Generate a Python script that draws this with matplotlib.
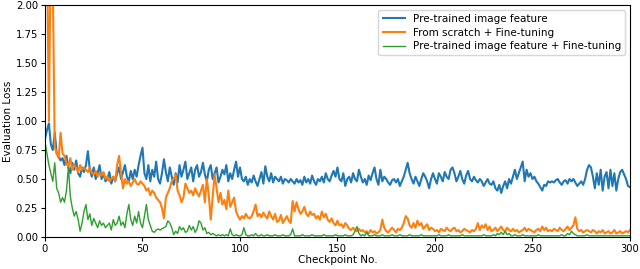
import numpy as np
import matplotlib.pyplot as plt

# values, one per checkpoint (0..300)
pretrained = [
    0.85, 0.92, 0.98, 0.80, 0.75, 0.90, 0.72, 0.70, 0.66, 0.68,
    0.62, 0.70, 0.60, 0.55, 0.64, 0.58, 0.66, 0.55, 0.52, 0.60,
    0.56, 0.62, 0.74, 0.58, 0.52, 0.60, 0.50, 0.55, 0.62, 0.50,
    0.55, 0.48, 0.50, 0.56, 0.46, 0.52, 0.48, 0.55, 0.60, 0.50,
    0.56, 0.62, 0.52, 0.48, 0.57, 0.50, 0.58, 0.52, 0.62, 0.70,
    0.77, 0.55, 0.50, 0.62, 0.48, 0.58, 0.52, 0.65, 0.50, 0.46,
    0.55, 0.67, 0.56, 0.48, 0.60, 0.52, 0.45, 0.55, 0.47, 0.62,
    0.52, 0.58, 0.65, 0.50, 0.55, 0.60, 0.48, 0.58, 0.62, 0.52,
    0.56, 0.64, 0.54, 0.48, 0.58, 0.62, 0.50, 0.55, 0.60, 0.47,
    0.52, 0.58, 0.54, 0.62, 0.48, 0.55, 0.50, 0.58, 0.65, 0.52,
    0.60, 0.50, 0.48, 0.52, 0.45, 0.50, 0.47, 0.53, 0.48, 0.44,
    0.50, 0.56, 0.46, 0.61, 0.52, 0.48, 0.55, 0.47, 0.52, 0.50,
    0.48, 0.52, 0.46, 0.50, 0.49, 0.47, 0.50, 0.48, 0.46, 0.50,
    0.47, 0.49, 0.45, 0.52, 0.47, 0.50, 0.46, 0.53, 0.48, 0.45,
    0.50, 0.48, 0.52, 0.47, 0.55, 0.50, 0.48, 0.53, 0.57, 0.52,
    0.60, 0.50, 0.48, 0.55, 0.44, 0.50, 0.52, 0.47, 0.55, 0.50,
    0.48, 0.58, 0.52, 0.47, 0.50, 0.45, 0.53, 0.49, 0.55, 0.60,
    0.50, 0.45, 0.58, 0.48, 0.52, 0.50, 0.47, 0.45, 0.49, 0.50,
    0.47, 0.50, 0.44, 0.48, 0.52, 0.58, 0.64, 0.55, 0.50, 0.46,
    0.52, 0.48, 0.44, 0.50, 0.55, 0.52, 0.48, 0.42, 0.50, 0.55,
    0.50, 0.46, 0.55, 0.52, 0.48, 0.56, 0.52, 0.50, 0.58, 0.60,
    0.55, 0.48, 0.52, 0.57, 0.50, 0.46, 0.53, 0.57, 0.50, 0.48,
    0.52, 0.49, 0.47, 0.50, 0.48, 0.44, 0.47, 0.50, 0.46, 0.45,
    0.48, 0.42, 0.40, 0.45, 0.38, 0.44, 0.48, 0.42, 0.50, 0.46,
    0.52, 0.58, 0.50, 0.55, 0.60, 0.65, 0.48, 0.58, 0.52, 0.55,
    0.50, 0.52, 0.48, 0.46, 0.43, 0.40, 0.45, 0.44, 0.48, 0.47,
    0.48, 0.47, 0.49, 0.50, 0.47, 0.45, 0.48, 0.49, 0.46, 0.50,
    0.48, 0.50, 0.47, 0.44, 0.46, 0.48, 0.45, 0.50, 0.58, 0.62,
    0.60, 0.52, 0.42, 0.55, 0.45, 0.58, 0.40, 0.52, 0.56, 0.42,
    0.58, 0.44, 0.55, 0.40, 0.50, 0.56, 0.58, 0.54, 0.50, 0.44,
    0.43,
]

scratch_ft = [
    3.00, 2.60, 1.00, 2.60, 2.20, 0.78, 0.72, 0.68, 0.90, 0.72,
    0.70, 0.64, 0.60, 0.68, 0.58, 0.62, 0.60, 0.56, 0.62, 0.58,
    0.60, 0.58, 0.56, 0.60, 0.55, 0.54, 0.57, 0.52, 0.55, 0.53,
    0.56, 0.50, 0.52, 0.48, 0.50, 0.52, 0.48, 0.62, 0.70, 0.55,
    0.42, 0.50, 0.46, 0.48, 0.44, 0.47, 0.50, 0.46, 0.45, 0.48,
    0.46, 0.44, 0.40, 0.42, 0.36, 0.40, 0.38, 0.34, 0.32, 0.30,
    0.25, 0.16, 0.34, 0.38, 0.42, 0.48, 0.50, 0.54, 0.40, 0.36,
    0.30, 0.34, 0.46, 0.42, 0.38, 0.40, 0.36, 0.42, 0.38, 0.35,
    0.40, 0.45, 0.30, 0.50, 0.36, 0.15, 0.35, 0.54, 0.42, 0.30,
    0.38, 0.28, 0.32, 0.24, 0.40, 0.26, 0.30, 0.34, 0.22, 0.18,
    0.15, 0.18, 0.16, 0.20, 0.17, 0.16, 0.18, 0.22, 0.28, 0.18,
    0.20, 0.17, 0.21, 0.18, 0.16, 0.22, 0.18, 0.15, 0.20, 0.13,
    0.14, 0.19, 0.12, 0.15, 0.18, 0.14, 0.12, 0.31, 0.22, 0.30,
    0.24, 0.20, 0.22, 0.26, 0.20, 0.18, 0.22, 0.19, 0.20, 0.16,
    0.18, 0.15, 0.22, 0.17, 0.20, 0.15, 0.13, 0.16, 0.12, 0.10,
    0.14, 0.10, 0.11, 0.08, 0.12, 0.10, 0.07, 0.06, 0.08, 0.06,
    0.05, 0.07, 0.05, 0.06, 0.04, 0.05, 0.03, 0.06, 0.04, 0.05,
    0.03, 0.04, 0.06, 0.15, 0.08, 0.05, 0.04, 0.06, 0.08, 0.06,
    0.04, 0.07, 0.06, 0.08, 0.12, 0.18, 0.16, 0.10, 0.08, 0.12,
    0.08, 0.14, 0.10, 0.12, 0.07, 0.09, 0.11, 0.06, 0.08, 0.07,
    0.05, 0.06, 0.04, 0.07, 0.06, 0.05, 0.08, 0.06, 0.05, 0.07,
    0.08, 0.05, 0.06, 0.04, 0.05, 0.07, 0.06, 0.05, 0.04, 0.06,
    0.05, 0.07, 0.12, 0.06, 0.10, 0.08, 0.11, 0.06, 0.09, 0.05,
    0.06, 0.08, 0.05, 0.07, 0.09, 0.06, 0.05, 0.08, 0.06, 0.05,
    0.07, 0.05, 0.06, 0.04, 0.05, 0.06, 0.08, 0.05, 0.07, 0.06,
    0.05, 0.04, 0.06, 0.07, 0.05, 0.09, 0.06, 0.08, 0.05, 0.06,
    0.05, 0.07, 0.06, 0.05, 0.08, 0.06, 0.05, 0.07, 0.09, 0.06,
    0.08, 0.10, 0.17, 0.07, 0.05, 0.06, 0.04, 0.05, 0.06, 0.05,
    0.04, 0.06, 0.05, 0.03, 0.05, 0.04, 0.06, 0.03, 0.04, 0.05,
    0.03, 0.04, 0.06, 0.03, 0.04, 0.05, 0.03, 0.04, 0.05, 0.04,
    0.06,
]

pretrained_ft = [
    0.82, 0.72, 0.62, 0.55, 0.48, 0.64, 0.42, 0.38, 0.30, 0.34,
    0.30, 0.40, 0.60, 0.35, 0.25, 0.18, 0.22, 0.15, 0.05, 0.12,
    0.22, 0.28, 0.15, 0.20, 0.10, 0.16, 0.12, 0.08, 0.14, 0.10,
    0.12, 0.08, 0.10, 0.12, 0.06, 0.15, 0.10, 0.12, 0.18, 0.10,
    0.13, 0.08, 0.20, 0.28, 0.15, 0.10, 0.18, 0.12, 0.22, 0.12,
    0.08, 0.18, 0.28, 0.15, 0.10, 0.05, 0.04, 0.06, 0.07, 0.06,
    0.07, 0.08, 0.09, 0.14, 0.12, 0.08, 0.02, 0.05, 0.03, 0.09,
    0.06, 0.08, 0.04, 0.05, 0.10, 0.06, 0.09, 0.04, 0.07, 0.14,
    0.12, 0.06, 0.08, 0.03, 0.04, 0.02, 0.03, 0.02, 0.01, 0.02,
    0.01, 0.02, 0.01, 0.02, 0.01, 0.07, 0.02, 0.01, 0.02, 0.01,
    0.01, 0.02, 0.08, 0.02, 0.01, 0.01, 0.02, 0.01, 0.03, 0.01,
    0.01, 0.02, 0.01, 0.01, 0.02, 0.01, 0.01, 0.01, 0.02, 0.01,
    0.01, 0.01, 0.02, 0.01, 0.01, 0.01, 0.02, 0.07, 0.01, 0.01,
    0.01, 0.01, 0.02, 0.01, 0.01, 0.01, 0.01, 0.02, 0.01, 0.01,
    0.01, 0.01, 0.01, 0.02, 0.01, 0.01, 0.01, 0.01, 0.01, 0.02,
    0.01, 0.01, 0.01, 0.01, 0.02, 0.01, 0.01, 0.01, 0.02, 0.05,
    0.09, 0.03, 0.01, 0.02, 0.01, 0.04, 0.01, 0.01, 0.01, 0.02,
    0.01, 0.01, 0.01, 0.02, 0.01, 0.01, 0.01, 0.01, 0.02, 0.01,
    0.01, 0.01, 0.02, 0.01, 0.01, 0.01, 0.01, 0.02, 0.01, 0.01,
    0.01, 0.01, 0.01, 0.02, 0.01, 0.01, 0.01, 0.01, 0.01, 0.01,
    0.01, 0.01, 0.02, 0.01, 0.01, 0.01, 0.01, 0.02, 0.01, 0.01,
    0.01, 0.01, 0.01, 0.01, 0.02, 0.01, 0.01, 0.01, 0.01, 0.01,
    0.01, 0.01, 0.01, 0.01, 0.01, 0.02, 0.01, 0.01, 0.01, 0.01,
    0.02, 0.01, 0.03, 0.02, 0.04, 0.02, 0.05, 0.02, 0.03, 0.01,
    0.01, 0.02, 0.01, 0.01, 0.01, 0.02, 0.01, 0.01, 0.01, 0.01,
    0.01, 0.01, 0.01, 0.02, 0.01, 0.01, 0.01, 0.01, 0.01, 0.01,
    0.01, 0.01, 0.01, 0.01, 0.01, 0.02, 0.01, 0.01, 0.03, 0.02,
    0.05, 0.03, 0.02, 0.01, 0.01, 0.01, 0.01, 0.01, 0.02, 0.01,
    0.01, 0.01, 0.01, 0.01, 0.01, 0.01, 0.01, 0.01, 0.01, 0.01,
    0.01, 0.01, 0.01, 0.01, 0.01, 0.01, 0.01, 0.01, 0.01, 0.01,
    0.01,
]

checkpoints = np.arange(len(pretrained))

fig = plt.figure(figsize=(6.4, 2.69), dpi=100)
ax = fig.add_axes([0.0703, 0.119, 0.914, 0.862])

ax.plot(checkpoints, pretrained, color='#1f77b4', lw=1.5, label='Pre-trained image feature')
ax.plot(checkpoints, scratch_ft, color='#ff7f0e', lw=1.5, label='From scratch + Fine-tuning')
ax.plot(checkpoints, pretrained_ft, color='#2ca02c', lw=1.0, label='Pre-trained image feature + Fine-tuning')

ax.set_xlim(0, 300)
ax.set_ylim(0, 2.0)
ax.set_yticks(np.arange(0, 2.01, 0.25))
ax.set_xlabel('Checkpoint No.', fontsize=7.5, labelpad=1)
ax.set_ylabel('Evaluation Loss', fontsize=7.5, labelpad=2)
ax.tick_params(labelsize=7.2, length=3, pad=2)
ax.legend(loc='upper right', fontsize=7.5, handlelength=2.1, labelspacing=0.35,
          borderaxespad=0.45)

fig.savefig('out.png', dpi=100)
